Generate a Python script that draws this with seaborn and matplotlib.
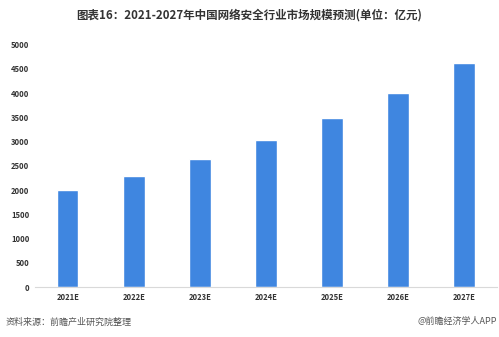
import matplotlib
matplotlib.use("Agg")
import matplotlib.pyplot as plt
import seaborn as sns
import pandas as pd

categories = ["2021E", "2022E", "2023E", "2024E", "2025E", "2026E", "2027E"]
values = [1995, 2285, 2635, 3040, 3480, 4010, 4610]
yticks = [0, 500, 1000, 1500, 2000, 2500, 3000, 3500, 4000, 4500, 5000]

sns.set_theme(style="white")
plt.rcParams['font.family'] = ['Noto Sans CJK SC', 'DejaVu Sans']

df = pd.DataFrame({"year": categories, "value": values})

fig = plt.figure(figsize=(4.99, 3.37), dpi=100)
ax = fig.add_axes([0.07, 0.148, 0.926, 0.72])
sns.barplot(data=df, x="year", y="value", color="#3f86e0", saturation=1, width=0.32, ax=ax)
ax.set_ylim(0, 5000)
ax.set_xlim(-0.5, len(categories) - 0.5)
ax.set_yticks(yticks)
ax.set_yticklabels([str(v) for v in yticks], fontsize=5.5, color="#333333", fontweight="bold")
ax.set_xticks(range(len(categories)))
ax.set_xticklabels(categories, fontsize=5.5, color="#333333", fontweight="bold")
ax.set_xlabel("")
ax.set_ylabel("")
for s in ["top", "right", "left"]:
    ax.spines[s].set_visible(False)
ax.spines["bottom"].set_color("#d9d9d9")
ax.spines["bottom"].set_linewidth(0.8)
ax.tick_params(axis="both", length=0, pad=4)

fig.text(0.5, 0.955, "图表16：2021-2027年中国网络安全行业市场规模预测(单位：亿元)",
         ha="center", va="center", fontsize=8.3, fontweight="bold", color="#333333")
fig.text(0.012, 0.045, "资料来源：前瞻产业研究院整理", ha="left", va="center", fontsize=6.5, color="#555555")
fig.text(0.995, 0.045, "@前瞻经济学人APP", ha="right", va="center", fontsize=6.5, color="#555555")

fig.savefig("out.png", dpi=100)
